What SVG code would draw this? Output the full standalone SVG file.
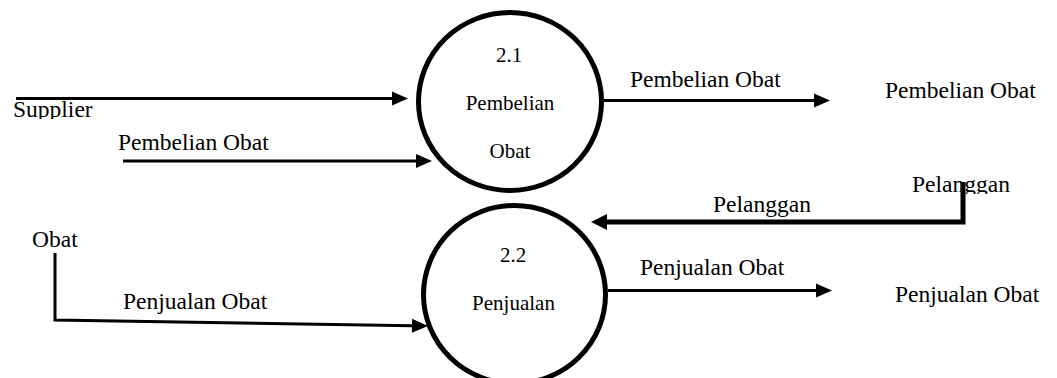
<svg xmlns="http://www.w3.org/2000/svg" width="1057" height="378" viewBox="0 0 1057 378">
  <style>
    text { font-family: "Times New Roman", "Liberation Serif", Tinos, "Noto Serif", "DejaVu Serif", serif; fill: #000; }
    .lbl { font-size: 23.5px; }
    .inner { font-size: 21px; text-anchor: middle; }
    .proc { fill: #fff; stroke: #000; stroke-width: 5; }
    .flow { fill: none; stroke: #000; stroke-width: 3; }
    .flow-bold { fill: none; stroke: #000; stroke-width: 5; stroke-linejoin: miter; }
  </style>
  <defs>
    <marker id="arrow" markerUnits="userSpaceOnUse" markerWidth="16" markerHeight="14" refX="0" refY="7" orient="auto" overflow="visible">
      <path d="M0,0 L16,7 L0,14 Z" fill="#000"/>
    </marker>
    <marker id="arrow-bold" markerUnits="userSpaceOnUse" markerWidth="16" markerHeight="16" refX="0" refY="8" orient="auto" overflow="visible">
      <path d="M0,0 L16,8 L0,16 Z" fill="#000"/>
    </marker>
    <clipPath id="clip-supplier"><rect x="0" y="0" width="200" height="119"/></clipPath>
    <clipPath id="clip-pelanggan"><rect x="880" y="150" width="177" height="44"/></clipPath>
  </defs>

  <rect width="1057" height="378" fill="#fff"/>

  <!-- external entities -->
  <g id="supplier">
    <text class="lbl" x="13" y="117" clip-path="url(#clip-supplier)">Supplier</text>
  </g>
  <g id="obat">
    <text class="lbl" x="32" y="247">Obat</text>
  </g>
  <g id="pelanggan">
    <text class="lbl" x="912" y="192" clip-path="url(#clip-pelanggan)">Pelanggan</text>
  </g>
  <g id="store-pembelian">
    <text class="lbl" x="885" y="98">Pembelian Obat</text>
  </g>
  <g id="store-penjualan">
    <text class="lbl" x="895" y="302">Penjualan Obat</text>
  </g>

  <!-- processes -->
  <g id="proc-2-1">
    <ellipse class="proc" cx="510" cy="101.5" rx="91.5" ry="89"/>
    <text class="inner" x="509" y="62">2.1</text>
    <text class="inner" x="510" y="110">Pembelian</text>
    <text class="inner" x="510" y="158">Obat</text>
  </g>
  <g id="proc-2-2">
    <ellipse class="proc" cx="514.5" cy="294.5" rx="91" ry="89"/>
    <text class="inner" x="513" y="262">2.2</text>
    <text class="inner" x="513.5" y="310">Penjualan</text>
  </g>

  <!-- data flows -->
  <g id="connectors">
    <path class="flow" d="M16,98.5 H392" marker-end="url(#arrow)"/>
    <path class="flow" d="M123,161 H416" marker-end="url(#arrow)"/>
    <text class="lbl" x="118" y="150">Pembelian Obat</text>

    <path class="flow" d="M604,100.5 H814" marker-end="url(#arrow)"/>
    <text class="lbl" x="630" y="87">Pembelian Obat</text>

    <path class="flow-bold" d="M963,182 V222 H607" marker-end="url(#arrow-bold)"/>
    <text class="lbl" x="713" y="212">Pelanggan</text>

    <path class="flow" d="M55,253 V320 L412,325.8" marker-end="url(#arrow)"/>
    <text class="lbl" x="123" y="309">Penjualan Obat</text>

    <path class="flow" d="M608,290.5 H816" marker-end="url(#arrow)"/>
    <text class="lbl" x="640" y="275">Penjualan Obat</text>
  </g>
</svg>
